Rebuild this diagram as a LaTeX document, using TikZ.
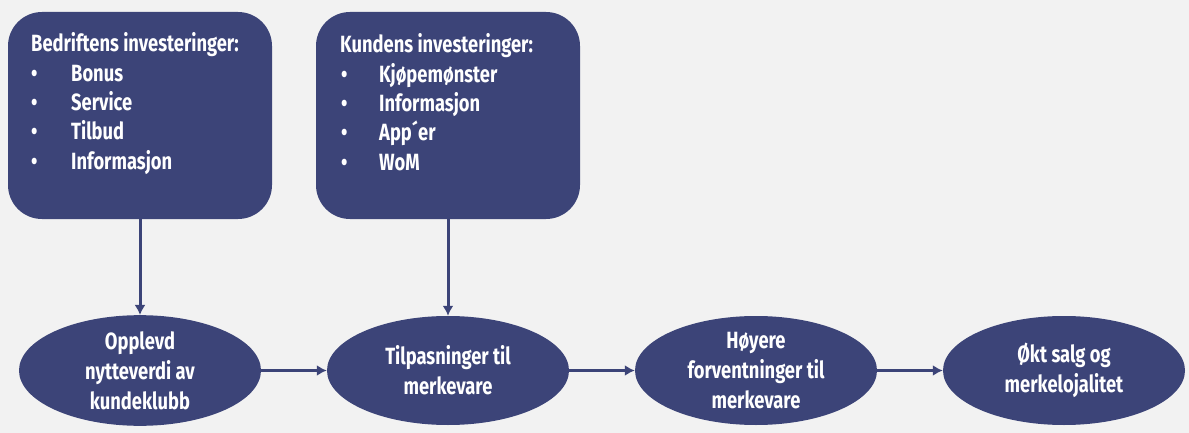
\documentclass[tikz,border=0pt]{standalone}
\usepackage{fontspec}
\setmainfont[FakeStretch=0.78]{Fira Sans}
\usetikzlibrary{shapes.geometric,arrows.meta}
\definecolor{boxblue}{HTML}{3C4478}
\definecolor{backgray}{HTML}{F2F2F2}

\begin{document}
\begin{tikzpicture}[x=1pt,y=-1pt,
	invbox/.style={fill=boxblue,rounded corners=34pt,minimum width=264pt,
		minimum height=207pt,inner sep=0pt},
	stage/.style={ellipse,fill=boxblue,minimum width=242pt,minimum height=109pt,
		inner sep=0pt,text=white,align=center,
		font=\bfseries\fontsize{23.5}{30}\selectfont},
	boxtext/.style={anchor=base west,inner sep=0pt,text=white,
		font=\bfseries\fontsize{23.5}{26}\selectfont},
	flow/.style={draw=boxblue,line width=3pt,-{Latex[length=10pt,width=11pt]}}]
	    % Setup some coordinates:
	    \def\dx{308}
	    \def\ys{370.5}
	    \def\dy{29.3}

	    % Background
	    \fill [backgray] (0,0) rectangle (1189,433);
	    \useasboundingbox (0,0) rectangle (1189,433);

	    % The two investment boxes
	    \node [invbox] (firm) at (140,115.5) {};
	    \node [invbox] (cust) at (140+\dx,115.5) {};

	    % And their texts
	    \node [boxtext] (firm title) at (31,52) {Bedriftens investeringer:};
	    \foreach \entry [count=\i] in {Bonus,Service,Tilbud,Informasjon} {
		\node [boxtext] (firm bullet \i) at (31,52+\dy*\i) {\textbullet};
		\node [boxtext] (firm item \i) at (71,52+\dy*\i) {\entry};
	    }
	    \node [boxtext] (cust title) at (340,53) {Kundens investeringer:};
	    \foreach \entry [count=\i] in {Kjøpemønster,Informasjon,App´er,WoM} {
		\node [boxtext] (cust bullet \i) at (341,53+\dy*\i) {\textbullet};
		\node [boxtext] (cust item \i) at (379,53+\dy*\i) {\entry};
	    }

	    % Draw the chain of stages
	    \node [stage] (opplevd)    at (140,\ys)       {Opplevd\\nytteverdi av\\kundeklubb};
	    \node [stage] (tilpasning) at (140+\dx,\ys)   {Tilpasninger til\\merkevare};
	    \node [stage] (hoyere)     at (140+2*\dx,\ys) {Høyere\\forventninger til\\merkevare};
	    \node [stage] (okt)        at (140+3*\dx,\ys) {Økt salg og\\merkelojalitet};

	    % Finally, the arrows
	    \draw [flow] (firm.south) -- (opplevd.north);
	    \draw [flow] (cust.south) -- (tilpasning.north);
	    \draw [flow] (opplevd.east) -- (tilpasning.west);
	    \draw [flow] (tilpasning.east) -- (hoyere.west);
	    \draw [flow] (hoyere.east) -- (okt.west);
\end{tikzpicture}
\end{document}
